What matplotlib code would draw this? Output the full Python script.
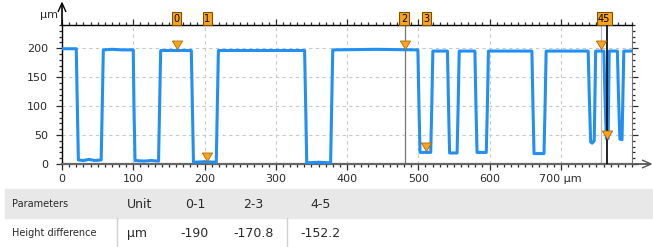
import numpy as np
import matplotlib
matplotlib.use("Agg")
import matplotlib.pyplot as plt
from matplotlib.path import Path
from matplotlib.patches import Rectangle
from matplotlib.ticker import MultipleLocator
import matplotlib.transforms as mtransforms

# profile (x in µm, height in µm)
profile_x = [0, 20, 21.5, 23, 30, 38, 46, 55, 56.5, 58, 70, 85, 100, 101, 102.5,
             115, 125, 135.5, 137, 138.5, 160, 181.5, 183, 184.5, 200, 216.5, 218, 219.5,
             280, 340.5, 342, 343.5, 360, 377, 378.5, 380, 440, 499.5, 501, 502.5,
             517.5, 519, 520.5, 541, 542.5, 544, 554.5, 556, 557.5, 579.5, 581, 582.5,
             595.5, 597, 598.5, 659.5, 661, 662.5, 676.5, 678, 679.5, 738.5, 740,
             742, 744, 747, 749, 760.5, 762, 764, 766.5, 768, 779.5, 781, 783,
             786, 788.5, 800]
profile_y = [199, 199, 100, 7, 6, 8, 6, 7, 100, 197, 198, 197, 197, 100, 6,
             5, 6, 5, 100, 196, 196, 196, 100, 3, 4, 3, 100, 196,
             196, 196, 100, 2, 3, 2, 100, 197, 198, 197, 100, 20,
             20, 100, 195, 195, 100, 19, 19, 100, 195, 195, 100, 20,
             20, 100, 195, 195, 100, 18, 18, 100, 195, 195, 120,
             38, 36, 40, 195, 195, 120, 44, 44, 195, 195, 120, 43,
             42, 195, 195]

# cursors
cursor_x = [161, 203, 481, 511, 757, 765]
cursor_y = [198, 6, 198, 23, 198, 43]
cursor_tags = ["0", "1", "2", "3", "45"]
cursor_tag_x = [161, 204, 480, 511, 761]

# table
col_headers = ["Parameters", "Unit", "0-1", "2-3", "4-5"]
row_label = "Height difference"
row_unit = "µm"
row_values = ["-190", "-170.8", "-152.2"]

W, H = 653, 247
fig = plt.figure(figsize=(W / 100, H / 100), dpi=100)
ax = fig.add_axes([62 / W, 1 - 164 / H, 570 / W, 139 / H])

blue = "#2190f2"
orange = "#f9a41c"
txt = "#2a2a2a"

ax.plot(profile_x, profile_y, color=blue, lw=2.2, solid_joinstyle="round", zorder=3)

ax.set_xlim(0, 800)
ax.set_ylim(0, 240)
ax.set_xticks(range(0, 800, 100))
ax.set_xticklabels(["0", "100", "200", "300", "400", "500", "600", "700 µm"])
ax.set_yticks([0, 50, 100, 150, 200])
ax.xaxis.set_minor_locator(MultipleLocator(10))
ax.yaxis.set_minor_locator(MultipleLocator(10))
ax.tick_params(which="both", top=True, right=True, direction="out",
               labelsize=8, colors=txt, width=0.9)
ax.tick_params(which="major", length=4, pad=3)
ax.tick_params(which="minor", length=2)
ax.tick_params(axis="y", which="major", pad=6)
ax.grid(True, which="major", ls=(0, (3, 3)), color="#c8c8c8", lw=0.8)

ax.spines["left"].set_color("black")
ax.spines["top"].set_color("black")
ax.spines["right"].set_color("#777777")
ax.spines["bottom"].set_color("#666666")
ax.spines["bottom"].set_linewidth(1.6)
ax.spines["left"].set_linewidth(1.0)
ax.spines["top"].set_linewidth(1.0)

# pixel transform of the figure, y measured from the top
pix = mtransforms.Affine2D().scale(1 / W, -1 / H).translate(0, 1) + fig.transFigure


def px_line(xs, ys, color, lw):
    ax.plot(xs, ys, transform=pix, color=color, lw=lw, clip_on=False,
            solid_capstyle="butt", zorder=10)


# axis arrows
px_line([62, 62], [25, 3], "black", 1.2)
px_line([58, 62, 66], [12, 3, 12], "black", 1.0)
px_line([632, 651], [164, 164], "#555555", 1.3)
px_line([642, 651, 642], [160, 164, 168], "#555555", 1.0)
fig.text(40 / W, 1 - 15 / H, "µm", fontsize=8, color=txt, va="center")

# cursor lines
ax.axvline(cursor_x[2], color="#777777", lw=0.9, zorder=2)
ax.axvline(cursor_x[4], color="#bbbbbb", lw=0.9, zorder=2)
ax.axvline(cursor_x[5], color="black", lw=1.2, zorder=4)

# down triangles with the tip on the profile
tri = Path([(-0.6, 1.0), (0.6, 1.0), (0.0, 0.0), (-0.6, 1.0)])
ax.scatter(cursor_x, cursor_y, marker=tri, s=150, color=orange,
           edgecolor="#b06a00", linewidth=0.6, zorder=5, clip_on=False)

trans = mtransforms.blended_transform_factory(ax.transData, ax.transAxes)
for tag, tx in zip(cursor_tags, cursor_tag_x):
    ax.text(tx, 1.045, tag, transform=trans, ha="center", va="center",
            fontsize=7, color="black",
            bbox=dict(boxstyle="square,pad=0.15", fc=orange, ec="#7a5200", lw=0.8))

# table
fig.patches.append(Rectangle((5 / W, 1 - 218 / H), 648 / W, 29 / H,
                             transform=fig.transFigure, color="#e8e8e8", zorder=0))
for xv in [117, 287]:
    fig.add_artist(plt.Line2D([xv / W, xv / W], [0, 1 - 218 / H],
                              transform=fig.transFigure, color="#d0d0d0", lw=1))
head_x = [12, 127, 185, 243, 310]
val_x = [180, 233, 300]
y1 = 1 - 204 / H
y2 = 1 - 233 / H
for i, (name, hx) in enumerate(zip(col_headers, head_x)):
    fig.text(hx / W, y1, name, fontsize=7 if i == 0 else 9, va="center", color=txt)
fig.text(12 / W, y2, row_label, fontsize=7, va="center", color=txt)
fig.text(127 / W, y2, row_unit, fontsize=9, va="center", color=txt)
for v, vx in zip(row_values, val_x):
    fig.text(vx / W, y2, v, fontsize=9, va="center", color=txt)

fig.savefig("out.png", dpi=100)
